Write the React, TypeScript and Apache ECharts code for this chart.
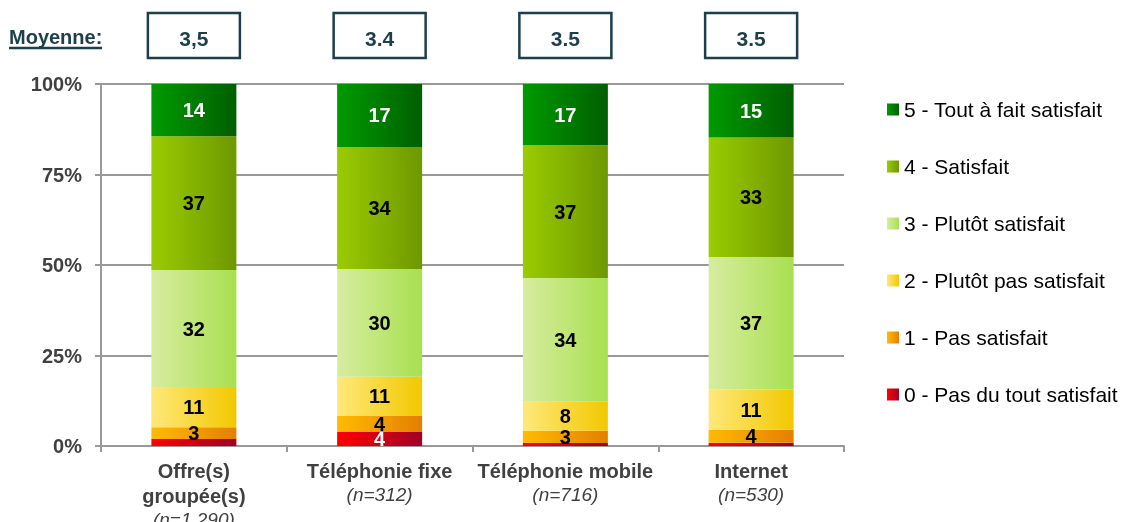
import React, { useEffect, useRef } from "react";
import * as echarts from "echarts";

const categories = ["Offre(s)\ngroupée(s)", "Téléphonie fixe", "Téléphonie mobile", "Internet"];
const sampleSizes = ["(n=1 290)", "(n=312)", "(n=716)", "(n=530)"];
const moyennes = ["3,5", "3.4", "3.5", "3.5"];
const yTicks = [0, 25, 50, 75, 100];

const seriesNames = [
  "0 - Pas du tout satisfait",
  "1 - Pas satisfait",
  "2 - Plutôt pas satisfait",
  "3 - Plutôt satisfait",
  "4 - Satisfait",
  "5 - Tout à fait satisfait",
];
const s0 = [1.9, 3.9, 0.8, 0.9];
const s1 = [3.3, 4.4, 3.4, 3.6];
const s2 = [11.1, 10.8, 8.0, 11.1];
const s3 = [32.3, 29.8, 34.2, 36.6];
const s4 = [37.0, 33.7, 36.7, 33.0];
const s5 = [14.4, 17.4, 16.9, 14.8];
const seriesValues = [s0, s1, s2, s3, s4, s5];

const gradStops: [string, string][] = [
  ["#ff0000", "#a00028"],
  ["#ffbb00", "#e47f00"],
  ["#ffe87a", "#f2c800"],
  ["#d8eca0", "#a8e050"],
  ["#9acc00", "#6e9800"],
  ["#009a00", "#005f00"],
];
const labelColors = ["#ffffff", "#000000", "#000000", "#000000", "#000000", "#ffffff"];
const labelMin = [3, 2, 2, 2, 2, 2];

const FONT = "Liberation Sans, Arial, sans-serif";

function grad(c: [string, string]) {
  return new echarts.graphic.LinearGradient(0, 0, 1, 0, [
    { offset: 0, color: c[0] },
    { offset: 1, color: c[1] },
  ]);
}

export default function App() {
  const ref = useRef<HTMLDivElement>(null);
  useEffect(() => {
    if (!ref.current) return;
    const chart = echarts.init(ref.current, null, { renderer: "svg" });
    const option: any = {
      animation: false,
      textStyle: { fontFamily: FONT },
      grid: { left: 101, top: 84, width: 743, height: 362, containLabel: false, outerBoundsMode: "none" },
      legend: {
        orient: "vertical",
        left: 882,
        top: 94,
        itemWidth: 12,
        itemHeight: 12,
        itemGap: 36,
        icon: "rect",
        data: seriesNames.slice().reverse(),
        textStyle: { fontSize: 21, color: "#000", fontFamily: FONT },
      },
      xAxis: {
        type: "category",
        data: categories,
        axisLine: { lineStyle: { color: "#999", width: 2 } },
        axisTick: { show: true, length: 6, lineStyle: { color: "#999", width: 2 } },
        axisLabel: {
          margin: 12,
          interval: 0,
          formatter: (v: string, i: number) => {
            const lines = v.split("\n").map((l) => "{b|" + l + "}");
            return lines.join("\n") + "\n{n|" + sampleSizes[i] + "}";
          },
          rich: {
            b: { fontSize: 20, fontWeight: "bold", color: "#404040", lineHeight: 25, fontFamily: FONT },
            n: { fontSize: 19, fontStyle: "italic", color: "#404040", lineHeight: 22, fontFamily: FONT },
          },
        },
      },
      yAxis: {
        type: "value",
        min: yTicks[0],
        max: yTicks[yTicks.length - 1],
        interval: 25,
        axisLine: { show: true, lineStyle: { color: "#999", width: 2 } },
        axisTick: { show: true, length: 6, lineStyle: { color: "#999", width: 2 } },
        splitLine: { show: true, lineStyle: { color: "#999", width: 2 } },
        axisLabel: {
          formatter: "{value}%",
          margin: 19,
          fontSize: 20,
          fontWeight: "bold",
          color: "#404040",
        },
      },
      series: seriesValues.map((vals, si) => ({
        name: seriesNames[si],
        type: "bar",
        stack: "total",
        barWidth: 85,
        itemStyle: { color: grad(gradStops[si]) },
        data: vals.map((v) => ({
          value: v,
          label: { show: v >= labelMin[si] },
        })),
        label: {
          position: "inside",
          fontSize: 20,
          fontWeight: "bold",
          color: labelColors[si],
          fontFamily: FONT,
          formatter: (p: any) => String(Math.round(p.value)),
        },
      })),
    };
    chart.setOption(option);

    const graphics: any[] = [
      {
        type: "text",
        x: 9,
        y: 37,
        style: { text: "Moyenne:", fontSize: 20, fontWeight: "bold", fill: "#1d3f4c", fontFamily: FONT, verticalAlign: "middle" },
      },
      {
        type: "line",
        shape: { x1: 9, y1: 48, x2: 102, y2: 48 },
        style: { stroke: "#1d3f4c", lineWidth: 2.5 },
      },
    ];
    categories.forEach((c, i) => {
      const px = chart.convertToPixel({ xAxisIndex: 0 }, c) as number;
      graphics.push({
        type: "rect",
        shape: { x: px - 46, y: 13, width: 92, height: 45 },
        style: { fill: "#fff", stroke: "#1d3f4c", lineWidth: 2.5 },
      });
      graphics.push({
        type: "text",
        x: px,
        y: 38.5,
        style: {
          text: moyennes[i],
          fontSize: 21,
          fontWeight: "bold",
          fill: "#1d3f4c",
          align: "center",
          verticalAlign: "middle",
          fontFamily: FONT,
        },
      });
    });
    chart.setOption({ graphic: graphics });
    return () => chart.dispose();
  }, []);
  return <div ref={ref} style={{ position: "fixed", left: 0, top: 0, width: 1122, height: 522 }} />;
}
